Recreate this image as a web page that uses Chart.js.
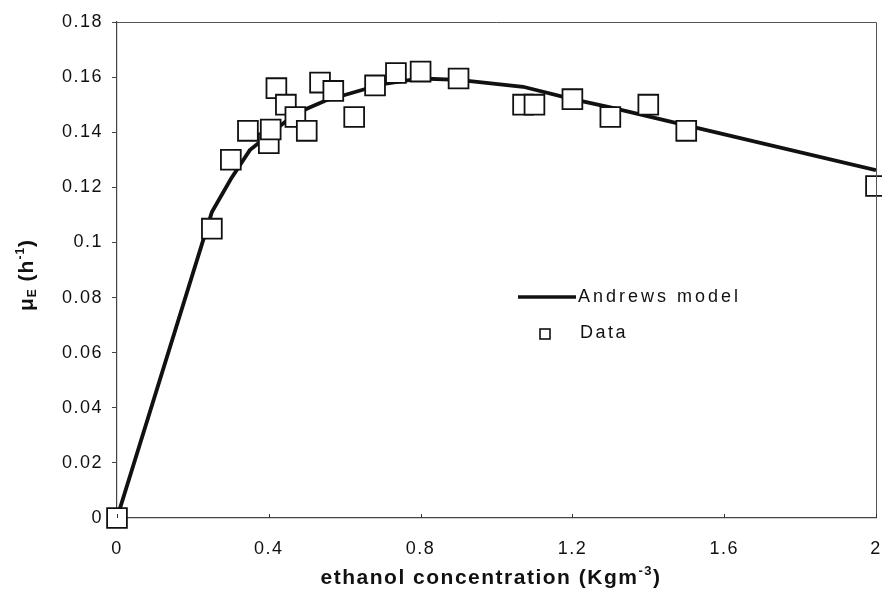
<!DOCTYPE html>
<html>
<head>
<meta charset="utf-8">
<script src="https://cdn.jsdelivr.net/npm/chart.js@4.4.1/dist/chart.umd.min.js"></script>
<style>
  html, body { margin: 0; padding: 0; background: #fff; }
  #wrap { width: 882px; height: 590px; }
</style>
</head>
<body>
<div id="wrap"><canvas id="chart" width="882" height="590"></canvas></div>
<script>
// measured points (ethanol conc. vs specific growth rate)
const dataX = [0, 0.25, 0.30, 0.345, 0.40, 0.405, 0.42, 0.445, 0.47, 0.50, 0.535, 0.57, 0.625, 0.68, 0.735, 0.80, 0.90, 1.07, 1.10, 1.20, 1.30, 1.40, 1.50, 2.00];
const dataY = [0, 0.105, 0.130, 0.1405, 0.136, 0.141, 0.156, 0.150, 0.1455, 0.1405, 0.158, 0.155, 0.1455, 0.157, 0.1615, 0.162, 0.1595, 0.150, 0.150, 0.152, 0.1455, 0.150, 0.1405, 0.1205];

// Andrews model curve
const modelX = [0, 0.25, 0.30, 0.35, 0.40, 0.45, 0.50, 0.55, 0.60, 0.70, 0.80, 0.90, 1.07, 1.20, 1.30, 1.50, 2.00];
const modelY = [0, 0.111, 0.123, 0.1335, 0.139, 0.1445, 0.1485, 0.1515, 0.1535, 0.1575, 0.1595, 0.159, 0.1565, 0.152, 0.149, 0.1425, 0.1262];

const xTickLabels = ['0', '0.4', '0.8', '1.2', '1.6', '2'];
const yTickLabels = ['0', '0.02', '0.04', '0.06', '0.08', '0.1', '0.12', '0.14', '0.16', '0.18'];

const FONT = '"Liberation Sans", Arial, sans-serif';
const SPACING = '1.5px';   // the original text is set a little wide

// wide letter spacing for the tick labels too
const spacing = {
    id: 'spacing',
    beforeUpdate(chart) { chart.ctx.letterSpacing = SPACING; },
    beforeDraw(chart) { chart.ctx.letterSpacing = SPACING; }
};

// draws runs of [text, size, dy] one after another
function drawRuns(ctx, runs, x, y, weight) {
    let w = 0;
    runs.forEach(r => { ctx.font = weight + ' ' + r[1] + 'px ' + FONT; w += ctx.measureText(r[0]).width; });
    let cx = x - w / 2;
    runs.forEach(r => {
        ctx.font = weight + ' ' + r[1] + 'px ' + FONT;
        ctx.fillText(r[0], cx, y + r[2]);
        cx += ctx.measureText(r[0]).width;
    });
}

// axis titles with sub/superscripts, frame, inward x ticks and the legend box
const decorations = {
    id: 'decorations',
    afterDraw(chart) {
        const ctx = chart.ctx;
        const a = chart.chartArea;
        const xs = chart.scales.x;
        ctx.save();

        // frame top + right
        ctx.strokeStyle = '#555';
        ctx.lineWidth = 1;
        ctx.beginPath();
        ctx.moveTo(a.left, a.top + 0.5);
        ctx.lineTo(a.right + 0.5, a.top + 0.5);
        ctx.lineTo(a.right + 0.5, a.bottom);
        ctx.stroke();

        // small ticks on x axis pointing up
        ctx.strokeStyle = '#333';
        xTickLabels.forEach((t, i) => {
            const px = Math.round(xs.getPixelForValue(i * 0.4)) + 0.5;
            ctx.beginPath();
            ctx.moveTo(px, a.bottom);
            ctx.lineTo(px, a.bottom - 4);
            ctx.stroke();
        });

        ctx.fillStyle = '#111';
        ctx.textAlign = 'left';
        ctx.textBaseline = 'alphabetic';

        // x title
        ctx.letterSpacing = '1.5px';
        drawRuns(ctx, [['ethanol concentration (Kgm', 21, 0], ['-3', 13, -9], [')', 21, 0]], 491, 584, 'bold');

        // y title, rotated
        ctx.save();
        ctx.translate(33, 275);
        ctx.rotate(-Math.PI / 2);
        ctx.letterSpacing = '1px';
        drawRuns(ctx, [['\u03bc', 21, 0], ['E', 12, 3], [' (h', 21, 0], ['-1', 12, -9], [')', 21, 0]], 0, 0, 'bold');
        ctx.restore();

        // legend
        const ds = chart.data.datasets;
        ctx.strokeStyle = '#111';
        ctx.lineWidth = 3.5;
        ctx.beginPath();
        ctx.moveTo(518, 297);
        ctx.lineTo(576, 297);
        ctx.stroke();
        ctx.letterSpacing = '3px';
        ctx.font = '18px ' + FONT;
        ctx.textBaseline = 'middle';
        ctx.fillText(ds[0].label, 578, 297);
        ctx.lineWidth = 1.6;
        ctx.fillStyle = '#fff';
        ctx.fillRect(540, 329, 10, 10);
        ctx.strokeRect(540, 329, 10, 10);
        ctx.fillStyle = '#111';
        ctx.letterSpacing = '2.5px';
        ctx.fillText(ds[1].label, 580, 333);

        ctx.restore();
    }
};

new Chart(document.getElementById('chart'), {
    type: 'scatter',
    data: {
        datasets: [
            {
                label: 'Andrews model',
                data: modelX.map((x, i) => ({ x: x, y: modelY[i] })),
                showLine: true,
                borderColor: '#111',
                borderWidth: 3.8,
                pointRadius: 0,
                tension: 0,
                order: 2
            },
            {
                label: 'Data',
                data: dataX.map((x, i) => ({ x: x, y: dataY[i] })),
                pointStyle: 'rect',
                pointRadius: 14,
                pointBackgroundColor: '#fff',
                pointBorderColor: '#111',
                pointBorderWidth: 1.8,
                clip: false,
                order: 1
            }
        ]
    },
    options: {
        responsive: false,
        animation: false,
        events: [],
        layout: { autoPadding: false, padding: { top: 22, right: 6, bottom: 0, left: 0 } },
        plugins: {
            legend: { display: false },
            tooltip: { enabled: false }
        },
        scales: {
            x: {
                type: 'linear',
                min: 0,
                max: 2,
                afterBuildTicks: s => { s.ticks = xTickLabels.map((t, i) => ({ value: i * 0.4 })); },
                afterFit: s => { s.height = 72; s.paddingRight = 0; s.paddingLeft = 0; },
                grid: { display: false, drawTicks: false },
                border: { display: true, color: '#444', width: 1.2 },
                ticks: {
                    padding: 20,
                    color: '#111',
                    font: { family: FONT, size: 18 },
                    callback: (v, i) => xTickLabels[i]
                }
            },
            y: {
                min: 0,
                max: 0.18,
                afterBuildTicks: s => { s.ticks = yTickLabels.map((t, i) => ({ value: i * 0.02 })); },
                afterFit: s => { s.width = 117; s.paddingTop = 0; s.paddingBottom = 0; },
                grid: { drawOnChartArea: false, tickLength: 5, color: '#444' },
                border: { display: true, color: '#444', width: 1.2 },
                ticks: {
                    padding: 9,
                    color: '#111',
                    font: { family: FONT, size: 18 },
                    callback: (v, i) => yTickLabels[i]
                }
            }
        }
    },
    plugins: [spacing, decorations]
});
</script>
</body>
</html>
